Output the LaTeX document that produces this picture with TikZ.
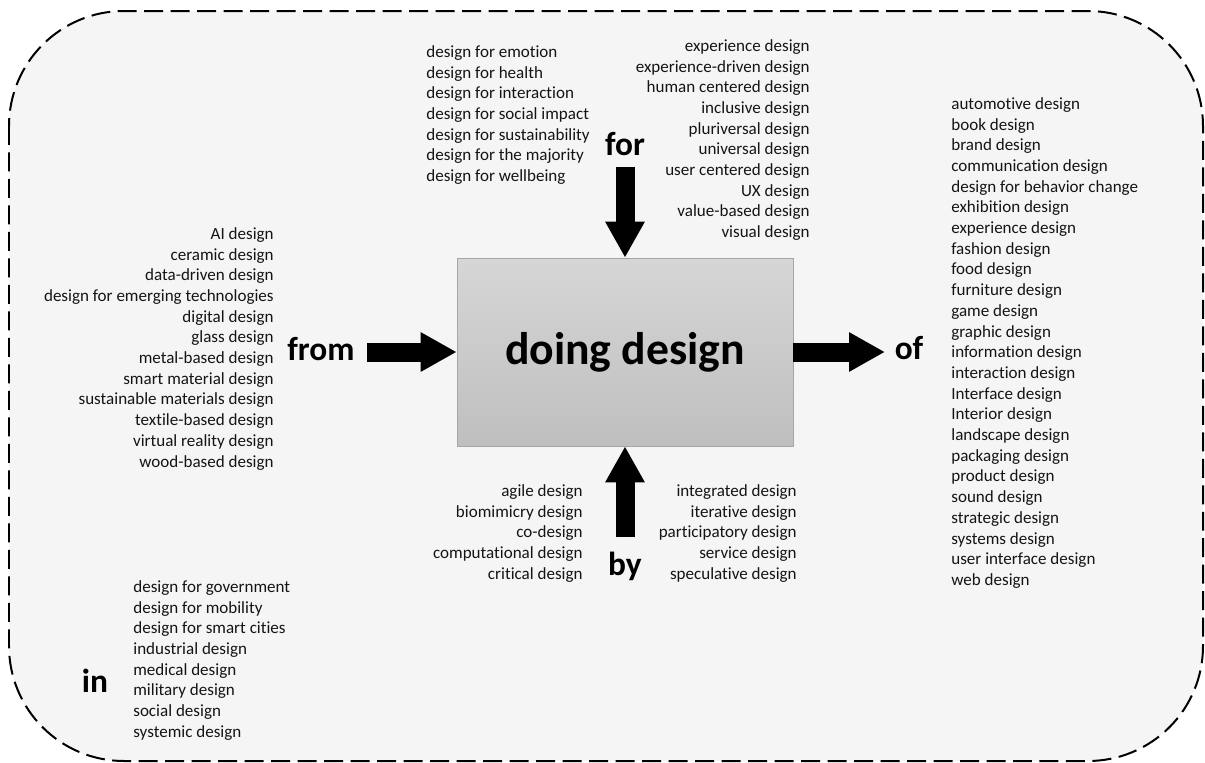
\documentclass[tikz,border=0pt]{standalone}
\usepackage{fontspec}
\setmainfont{Carlito}[Ligatures=NoCommon]
\usetikzlibrary{arrows.meta}
\usetikzlibrary{positioning}

\definecolor{panelgray}{RGB}{245,245,245}
\definecolor{boxtop}{RGB}{214,214,214}
\definecolor{boxbottom}{RGB}{191,191,191}
\definecolor{boxline}{RGB}{166,166,166}
\definecolor{inktext}{RGB}{20,20,20}

\tikzset{
  item/.style={font=\fontsize{9.7}{11.8}\selectfont, text=inktext, inner sep=0pt},
  keyword/.style={font=\fontsize{19}{23}\selectfont\bfseries, text=black, inner sep=0pt, anchor=base},
  blockarrow/.style={line width=0.38cm, -{Triangle[length=0.72cm,width=0.74cm]}},
}

\begin{document}
\begin{tikzpicture}[x=0.02cm,y=-0.02cm]
\fill[white] (0,0) rectangle (1205,762);
\useasboundingbox (0,0) rectangle (1205,762);
\draw[fill=panelgray, line width=0.04cm, dash pattern=on 0.38cm off 0.15cm, rounded corners=2.3cm] (9,11) rectangle (1203,761);

\node[draw=boxline, top color=boxtop, bottom color=boxbottom, minimum width=6.72cm, minimum height=3.76cm, font=\fontsize{26}{30}\selectfont\bfseries, inner sep=0pt] (core) at (625,352) {doing design};

% the five prepositions
\node[keyword] (kwfor) at (625,155) {for};
\node[keyword] (kwfrom) at (321,360) {from};
\node[keyword] (kwof) at (909,359) {of};
\node[keyword] (kwby) at (625,575) {by};
\node[keyword] (kwin) at (95,692) {in};

\coordinate (fortail) at (625,167);
\coordinate (fromtail) at (367,352);
\coordinate (bytail) at (625,537);
\coordinate (ofhead) at (885,352);
\draw[blockarrow] (fortail) -- (core.north);
\draw[blockarrow] (fromtail) -- (core.west);
\draw[blockarrow] (bytail) -- (core.south);
\draw[blockarrow] (core.east) -- (ofhead);

% for
\foreach \t [count=\i from 0] in {design for emotion, design for health, design for interaction, design for social impact, design for sustainability, design for the majority, design for wellbeing}
  \node[item, anchor=base west] (forL\i) at (426, 57.3+20.7*\i) {\t};
\foreach \t [count=\i from 0] in {experience design, experience-driven design, human centered design, inclusive design, pluriversal design, universal design, user centered design, UX design, value-based design, visual design}
  \node[item, anchor=base east] (forR\i) at (810, 51.3+20.7*\i) {\t};

% from
\foreach \t [count=\i from 0] in {AI design, ceramic design, data-driven design, design for emerging technologies, digital design, glass design, metal-based design, smart material design, sustainable materials design, textile-based design, virtual reality design, wood-based design}
  \node[item, anchor=base east] (from\i) at (274, 239.3+20.7*\i) {\t};

% by
\foreach \t [count=\i from 0] in {agile design, biomimicry design, co-design, computational design, critical design}
  \node[item, anchor=base east] (byL\i) at (583, 496.3+20.7*\i) {\t};
\foreach \t [count=\i from 0] in {integrated design, iterative design, participatory design, service design, speculative design}
  \node[item, anchor=base east] (byR\i) at (797, 496.3+20.7*\i) {\t};

% in
\foreach \t [count=\i from 0] in {design for government, design for mobility, design for smart cities, industrial design, medical design, military design, social design, systemic design}
  \node[item, anchor=base west] (in\i) at (133, 592.3+20.7*\i) {\t};

% of
\foreach \t [count=\i from 0] in {automotive design, book design, brand design, communication design, design for behavior change, exhibition design, experience design, fashion design, food design, furniture design, game design, graphic design, information design, interaction design, Interface design, Interior design, landscape design, packaging design, product design, sound design, strategic design, systems design, user interface design, web design}
  \node[item, anchor=base west] (of\i) at (951, 109.3+20.7*\i) {\t};

\end{tikzpicture}
\end{document}
